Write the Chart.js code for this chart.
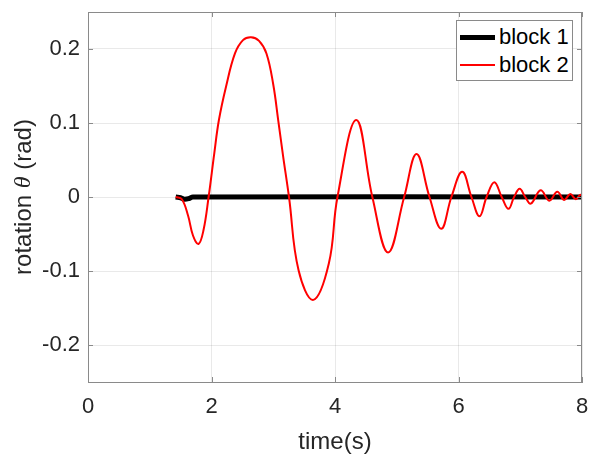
<!DOCTYPE html>
<html>
<head>
<meta charset="utf-8">
<script src="https://cdn.jsdelivr.net/npm/chart.js@4/dist/chart.umd.min.js"></script>
<style>
  body { margin: 0; background: #fff; }
  #wrap { position: relative; width: 589px; height: 457px; overflow: hidden; }
  #legend {
    position: absolute; left: 456px; top: 20px; width: 115px; height: 59px;
    border: 1px solid #8a8a8a; background: #fff;
    font-family: "Liberation Sans", Arial, sans-serif; font-size: 22px; color: #000;
  }
  .row { position: absolute; left: 0; height: 28px; display: flex; align-items: center; }
  .swatch { width: 35px; margin-left: 3px; margin-right: 4px; }
</style>
</head>
<body>
<div id="wrap">
  <canvas id="chart1" width="589" height="457"></canvas>
  <div id="legend"></div>
</div>
<script>
// Data
const block1Time = [1.42, 1.50, 1.56, 1.64, 1.70, 8.0];
const block1Rot  = [0, -0.001, -0.003, -0.002, 0, 0];

const block2Time = [1.42, 1.52, 1.62, 1.70, 1.79, 1.87, 1.953, 2.045, 2.12, 2.235, 2.38, 2.51, 2.64,
                    2.77, 2.89, 3.00, 3.08, 3.16, 3.255,
                    3.41, 3.65, 3.90, 4.04, 4.345, 4.605, 4.86, 5.12, 5.32, 5.53, 5.72, 5.885,
                    6.06, 6.21, 6.34, 6.455, 6.58, 6.70, 6.81, 6.90, 6.99, 7.08, 7.17, 7.33,
                    7.47, 7.60, 7.71, 7.81, 7.90, 7.97, 8.0];
const block2Rot  = [0, -0.003, -0.025, -0.052, -0.0635, -0.045, 0, 0.059, 0.104, 0.149, 0.194, 0.212, 0.216,
                    0.211, 0.194, 0.152, 0.104, 0.055, 0,
                    -0.099, -0.139, -0.09, 0, 0.104, 0, -0.075, 0, 0.058, 0, -0.043, 0,
                    0.034, 0, -0.026, 0, 0.020, 0, -0.016, 0, 0.011, 0, -0.009, 0.009,
                    -0.005, 0.007, -0.004, 0.004, -0.003, 0.003, 0.001];

const xTicks = [0, 2, 4, 6, 8];
const yTicks = [-0.2, -0.1, 0, 0.1, 0.2];

const seriesInfo = [
    { label: 'block 1', color: '#000000', width: 5, time: block1Time, rot: block1Rot, order: 1 },
    { label: 'block 2', color: '#ff0000', width: 2, time: block2Time, rot: block2Rot, order: 0 }
];

const fontFamily = '"Liberation Sans", Arial, sans-serif';
const axisGray = '#8a8a8a';
const textColor = '#262626';

// box around the axes with inward tick marks, plus the y label with italic theta
const matlabBox = {
    id: 'matlabBox',
    afterDraw(chart) {
        const { ctx, chartArea: a, scales } = chart;
        ctx.save();
        ctx.strokeStyle = axisGray;
        ctx.lineWidth = 1;
        ctx.beginPath();
        ctx.moveTo(a.left, a.top + 0.5);
        ctx.lineTo(a.right, a.top + 0.5);
        ctx.moveTo(a.right - 0.5, a.top);
        ctx.lineTo(a.right - 0.5, a.bottom);
        scales.x.ticks.forEach((t) => {
            const px = Math.round(scales.x.getPixelForValue(t.value)) + 0.5;
            ctx.moveTo(px, a.bottom); ctx.lineTo(px, a.bottom - 5);
            ctx.moveTo(px, a.top); ctx.lineTo(px, a.top + 5);
        });
        scales.y.ticks.forEach((t) => {
            const py = Math.round(scales.y.getPixelForValue(t.value)) + 0.5;
            ctx.moveTo(a.left, py); ctx.lineTo(a.left + 5, py);
            ctx.moveTo(a.right, py); ctx.lineTo(a.right - 5, py);
        });
        ctx.stroke();

        // y axis label
        const parts = [
            { text: 'rotation ', font: '24px ' + fontFamily },
            { text: '\u03B8', font: 'italic 24px "Liberation Serif", serif' },
            { text: ' (rad)', font: '24px ' + fontFamily }
        ];
        let total = 0;
        parts.forEach((p) => { ctx.font = p.font; p.w = ctx.measureText(p.text).width; total += p.w; });
        ctx.translate(24, (a.top + a.bottom) / 2);
        ctx.rotate(-Math.PI / 2);
        ctx.fillStyle = textColor;
        ctx.textBaseline = 'middle';
        let x = -total / 2;
        parts.forEach((p) => { ctx.font = p.font; ctx.fillText(p.text, x, 0); x += p.w; });
        ctx.restore();
    }
};

const ctx = document.getElementById('chart1').getContext('2d');
const chart = new Chart(ctx, {
    type: 'line',
    data: {
        datasets: seriesInfo.map((s) => ({
            label: s.label,
            data: s.time.map((t, i) => ({ x: t, y: s.rot[i] })),
            borderColor: s.color,
            borderWidth: s.width,
            pointRadius: 0,
            tension: 0.4,
            borderCapStyle: 'butt',
            fill: false,
            order: s.order
        }))
    },
    options: {
        responsive: false,
        animation: false,
        devicePixelRatio: 1,
        layout: { padding: { top: 12, right: 7, left: 0, bottom: 0 } },
        plugins: { legend: { display: false }, tooltip: { enabled: false } },
        scales: {
            x: {
                type: 'linear', min: 0, max: 8,
                afterBuildTicks: (s) => { s.ticks = xTicks.map((v) => ({ value: v })); },
                afterFit: (s) => { s.height = 75; s.paddingLeft = 0; s.paddingRight = 0; },
                grid: { color: 'rgba(38,38,38,0.1)', drawTicks: false },
                border: { display: true, color: axisGray, width: 1 },
                ticks: { color: textColor, font: { family: fontFamily, size: 22 }, padding: 12, maxRotation: 0 },
                title: { display: true, text: 'time(s)', color: textColor,
                         font: { family: fontFamily, size: 24 }, padding: { top: 0, bottom: 0 } }
            },
            y: {
                type: 'linear', min: -0.25, max: 0.25,
                afterBuildTicks: (s) => { s.ticks = yTicks.map((v) => ({ value: v })); },
                afterFit: (s) => { s.width = 88; s.paddingTop = 0; s.paddingBottom = 0; },
                grid: { color: 'rgba(38,38,38,0.1)', drawTicks: false },
                border: { display: true, color: axisGray, width: 1 },
                ticks: { color: textColor, font: { family: fontFamily, size: 22 }, padding: 8,
                         callback: (v) => (v === 0 ? '0' : v.toFixed(1)) }
            }
        }
    },
    plugins: [matlabBox]
});

// legend built from the datasets
const legend = document.getElementById('legend');
seriesInfo.forEach((s, i) => {
    const row = document.createElement('div');
    row.className = 'row';
    row.style.top = (2 + i * 28) + 'px';
    const sw = document.createElement('div');
    sw.className = 'swatch';
    sw.style.borderTop = s.width + 'px solid ' + s.color;
    const label = document.createElement('span');
    label.textContent = s.label;
    row.appendChild(sw);
    row.appendChild(label);
    legend.appendChild(row);
});
</script>
</body>
</html>
